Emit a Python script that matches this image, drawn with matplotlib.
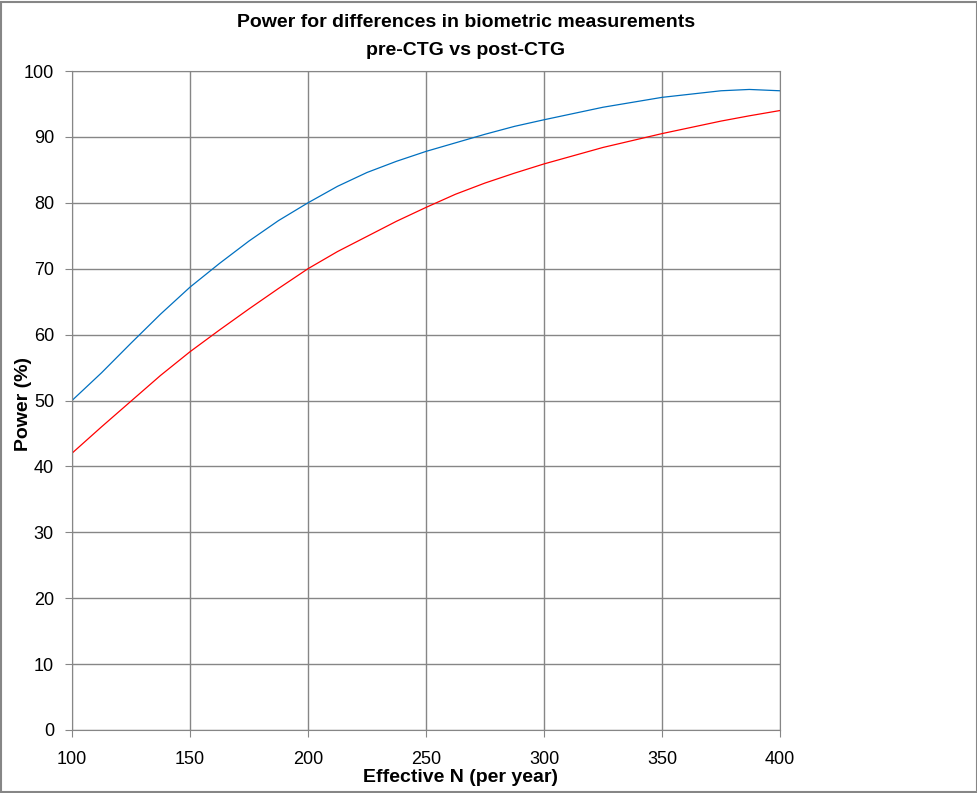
import matplotlib
matplotlib.use('Agg')
import matplotlib.pyplot as plt

# effective N (per year)
n_vals = [100, 112.5, 125, 137.5, 150, 162.5, 175, 187.5, 200, 212.5, 225, 237.5,
          250, 262.5, 275, 287.5, 300, 325, 350, 375, 387, 400]
# power (%)
power_blue = [50.0, 54.2, 58.7, 63.1, 67.2, 70.8, 74.2, 77.3, 80.0, 82.5, 84.6, 86.3,
              87.8, 89.1, 90.4, 91.6, 92.6, 94.5, 96.0, 97.0, 97.2, 97.0]
power_red = [42.0, 46.0, 49.9, 53.8, 57.4, 60.7, 63.9, 67.0, 70.0, 72.6, 74.9, 77.2,
             79.3, 81.3, 83.0, 84.5, 85.9, 88.4, 90.5, 92.4, 93.2, 94.0]

x_ticks = [100, 150, 200, 250, 300, 350, 400]
y_ticks = list(range(0, 101, 10))

plt.rcParams['font.family'] = ['Liberation Sans', 'DejaVu Sans']

grid_col = '#868686'
W, H = 978, 793

fig = plt.figure(figsize=(W/100, H/100), dpi=100)
ax = fig.add_axes([72/W, 1 - 730/H, (780-72)/W, (730-71)/H])

ax.plot(n_vals, power_blue, color='#0070C0', lw=0.9)
ax.plot(n_vals, power_red, color='#FF0000', lw=0.9)

ax.set_xlim(100, 400)
ax.set_ylim(0, 100)
ax.set_xticks(x_ticks)
ax.set_yticks(y_ticks)
ax.grid(True, color=grid_col, lw=1)
ax.set_axisbelow(True)
for s in ax.spines.values():
    s.set_color(grid_col)
ax.tick_params(direction='out', length=5, color=grid_col, labelsize=13)
ax.tick_params(axis='y', pad=8)
ax.tick_params(axis='x', pad=10)

# titles and axis labels placed like the original chart
fig.text(466/W, 1 - 27/H, 'Power for differences in biometric measurements',
         ha='center', va='baseline', fontsize=14, fontweight='bold')
fig.text(466/W, 1 - 55/H, 'pre-CTG vs post-CTG',
         ha='center', va='baseline', fontsize=14, fontweight='bold')
fig.text(461/W, 1 - 782/H, 'Effective N (per year)',
         ha='center', va='baseline', fontsize=14, fontweight='bold')
fig.text(24/W, 1 - 404/H, 'Power (%)', rotation=90,
         ha='center', va='center', fontsize=14, fontweight='bold')

# outer chart border
fig.patches.append(plt.Rectangle((0.001, 0.001), 0.998, 0.997, transform=fig.transFigure,
                                 fill=False, edgecolor=grid_col, lw=1.5))

plt.savefig('out.png', dpi=100)
